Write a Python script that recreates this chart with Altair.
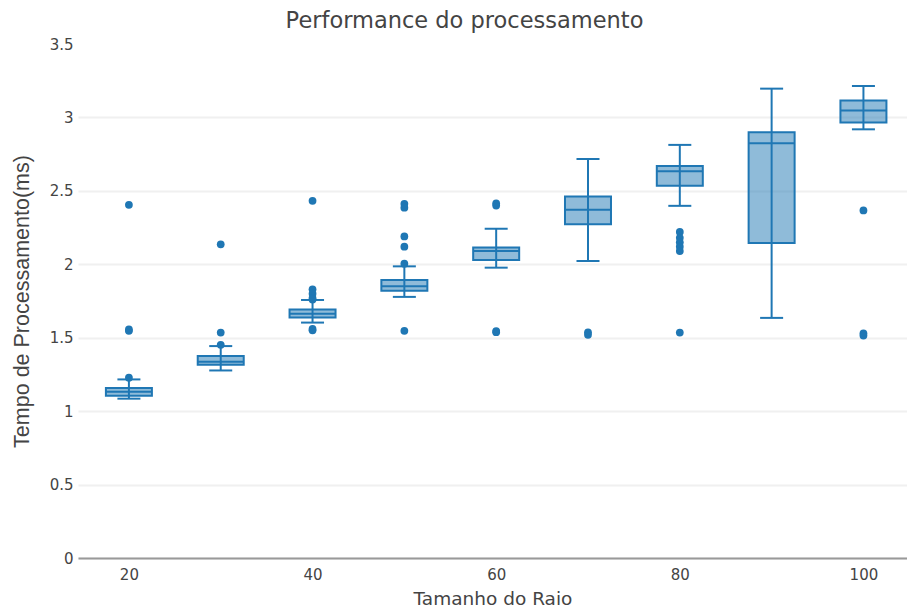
import altair as alt
import pandas as pd

sizes = [20, 30, 40, 50, 60, 70, 80, 90, 100]
lower_whisker = [1.085, 1.277, 1.603, 1.778, 1.977, 2.022, 2.398, 1.635, 2.919]
q1 = [1.105, 1.316, 1.637, 1.819, 2.029, 2.272, 2.534, 2.145, 2.965]
median = [1.132, 1.336, 1.664, 1.850, 2.090, 2.371, 2.634, 2.824, 3.048]
q3 = [1.158, 1.375, 1.692, 1.893, 2.115, 2.462, 2.670, 2.899, 3.116]
upper_whisker = [1.216, 1.443, 1.757, 1.986, 2.242, 2.717, 2.813, 3.196, 3.214]

outlier_x = [20, 20, 20, 20,
             30, 30, 30,
             40, 40, 40, 40, 40, 40, 40,
             50, 50, 50, 50, 50, 50,
             60, 60, 60, 60,
             70, 70,
             80, 80, 80, 80, 80, 80,
             100, 100, 100]
outlier_y = [2.405, 1.547, 1.556, 1.228,
             2.136, 1.535, 1.452,
             2.432, 1.83, 1.80, 1.77, 1.76, 1.55, 1.56,
             2.412, 2.385, 2.19, 2.12, 2.004, 1.547,
             2.40, 2.415, 1.538, 1.545,
             1.52, 1.537,
             2.22, 2.18, 2.15, 2.12, 2.09, 1.535,
             2.367, 1.53, 1.515]

x_ticks = [20, 40, 60, 80, 100]
y_ticks = [0, 0.5, 1, 1.5, 2, 2.5, 3, 3.5]

stats = pd.DataFrame({"raio": sizes, "lo": lower_whisker, "q1": q1,
                      "med": median, "q3": q3, "hi": upper_whisker})
outs = pd.DataFrame({"raio": outlier_x, "t": outlier_y})

BLUE = "#1f77b4"
FONT = "DejaVu Sans"
YFONT = "Liberation Sans"

xs = alt.Scale(domain=[15, 104.2], nice=False, zero=False)
ys = alt.Scale(domain=[0, 3.5], nice=False)

x_enc = alt.X("raio:Q", scale=xs,
              axis=alt.Axis(title="Tamanho do Raio", values=x_ticks, grid=False,
                            ticks=False, domain=True, domainColor="#999999",
                            domainWidth=2, labelPadding=9, labelFontSize=15,
                            labelColor="#444444", titleFontSize=18.5,
                            titleColor="#444444", titlePadding=7,
                            labelFont=FONT, titleFont=FONT, titleFontWeight="normal"))
y_axis = alt.Axis(title="Tempo de Processamento(ms)", values=y_ticks, format="~g",
                  grid=True,
                  gridColor={"condition": {"test": "datum.value >= 3.5",
                                           "value": "transparent"},
                             "value": "#f0f0f0"},
                  gridWidth=2, ticks=False,
                  domain=False, labelPadding=5, labelFontSize=15,
                  labelColor="#444444", titleFontSize=21.5, titleColor="#444444",
                  titlePadding=16, labelFont=FONT, titleFont=YFONT,
                  titleFontWeight="normal")

base = alt.Chart(stats)

whisker = base.mark_rule(color=BLUE, strokeWidth=2).encode(
    x=x_enc, y=alt.Y("lo:Q", scale=ys, axis=y_axis), y2="hi:Q")
box = base.mark_bar(size=46, fill=BLUE, fillOpacity=0.5, stroke=BLUE,
                    strokeWidth=2).encode(
    x="raio:Q", y="q1:Q", y2="q3:Q")
med = base.mark_tick(orient="horizontal", size=46, thickness=2, color=BLUE,
                     opacity=1).encode(x="raio:Q", y="med:Q")
cap_lo = base.mark_tick(orient="horizontal", size=23, thickness=2, color=BLUE,
                        opacity=1).encode(x="raio:Q", y="lo:Q")
cap_hi = base.mark_tick(orient="horizontal", size=23, thickness=2, color=BLUE,
                        opacity=1).encode(x="raio:Q", y="hi:Q")
pts = alt.Chart(outs).mark_circle(size=60, color=BLUE, opacity=1).encode(
    x="raio:Q", y="t:Q")

chart = alt.layer(whisker, box, med, cap_lo, cap_hi, pts).properties(
    width=829, height=514,
    background="white",
    title=alt.TitleParams("Performance do processamento", fontSize=22.5,
                          font=FONT, fontWeight="normal", color="#444444",
                          anchor="middle", offset=5, dx=-28),
    autosize=alt.AutoSizeParams(type="none"),
    padding={"left": 78, "top": 44, "right": 0, "bottom": 53},
).configure_view(strokeWidth=0, stroke="transparent").configure_axisX(
    grid=False).configure_axisY(domain=False)

chart.save("out.html", embed_options={"renderer": "svg", "actions": False})
